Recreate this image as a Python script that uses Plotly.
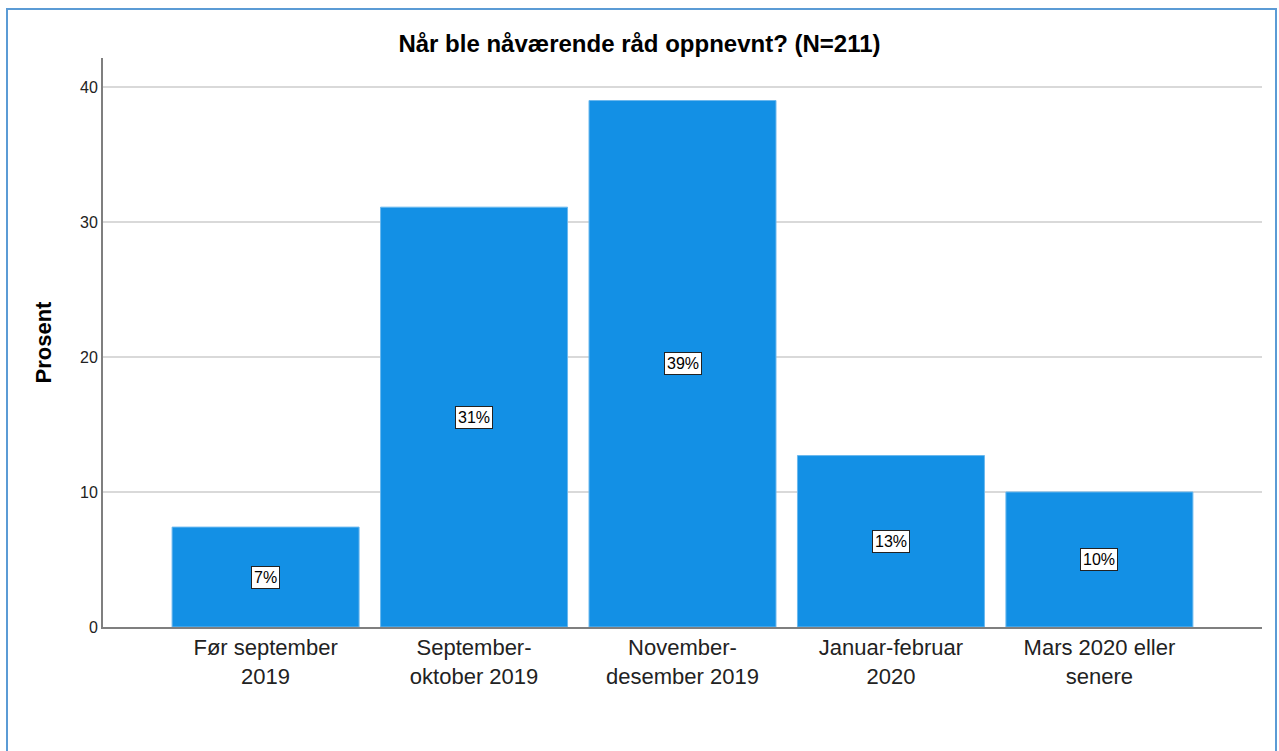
import plotly.graph_objects as go

categories = ["Før september<br>2019", "September-<br>oktober 2019", "November-<br>desember 2019",
              "Januar-februar<br>2020", "Mars 2020 eller<br>senere"]
values = [7.4, 31.1, 39.0, 12.7, 10.0]
labels = ["7%", "31%", "39%", "13%", "10%"]
yticks = [0, 10, 20, 30, 40]

W, H = 1279, 751
L, R, T, B = 103, 17, 58, 124
pw, ph = W - L - R, H - T - B
FONT = "Liberation Sans, Arial, sans-serif"

fig = go.Figure()
fig.add_trace(go.Bar(
    x=list(range(len(categories))), y=values,
    marker=dict(color="#1390E5", line=dict(color="#6BB8EE", width=1)),
    width=0.897, hoverinfo="skip",
))

for i, (v, t) in enumerate(zip(values, labels)):
    fig.add_annotation(x=i, y=v / 2, text=t, showarrow=False,
                       font=dict(family=FONT, size=16, color="#000"),
                       bgcolor="white", bordercolor="#222", borderwidth=1, borderpad=2)

def px_x(x):
    return (x - L) / pw

def px_y(y):
    return (H - B - y) / ph

fig.add_shape(type="rect", xref="paper", yref="paper",
              x0=px_x(7), x1=px_x(1276), y0=px_y(765), y1=px_y(9),
              line=dict(color="#5B9BD5", width=2), fillcolor="rgba(0,0,0,0)", layer="below")

fig.update_layout(
    width=W, height=H,
    margin=dict(l=L, r=R, t=T, b=B, autoexpand=False),
    paper_bgcolor="white", plot_bgcolor="white",
    showlegend=False,
    title=dict(text="<b>Når ble nåværende råd oppnevnt? (N=211)</b>", x=0.5, xanchor="center",
               y=1 - 44 / H, yanchor="middle",
               font=dict(family=FONT, size=24, color="#000")),
    font=dict(family=FONT, color="#222"),
    xaxis=dict(
        tickmode="array", tickvals=list(range(len(categories))), ticktext=categories,
        range=[-0.78, 4.78], showgrid=False, showline=True, linecolor="#7f7f7f", linewidth=2,
        ticks="", tickfont=dict(size=22, color="#222"), zeroline=False,
    ),
    yaxis=dict(
        range=[0, 42.15], tickmode="array", tickvals=yticks,
        showgrid=True, gridcolor="#d9d9d9", gridwidth=2,
        showline=True, linecolor="#7f7f7f", linewidth=2, ticks="",
        tickfont=dict(size=16, color="#222"), zeroline=False,
        title=dict(text="<b>Prosent</b>", font=dict(size=22, color="#000"), standoff=22),
    ),
)

fig.write_html("out.html", config={"displayModeBar": False},
               post_script="document.body.style.margin='0';document.body.style.overflow='hidden';")
